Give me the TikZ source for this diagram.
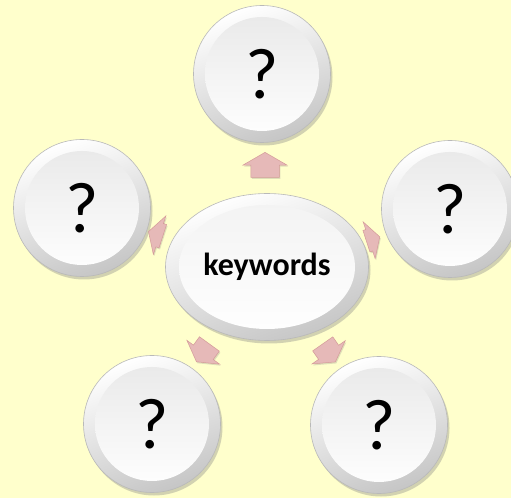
\documentclass[tikz,border=0pt]{standalone}
\usepackage{fontspec}
\setmainfont{Carlito}
\usetikzlibrary{shapes.geometric,shapes.arrows,shadows}

\definecolor{paper}{HTML}{FFFFCC}
\definecolor{petalfill}{HTML}{E6B9B8}
\definecolor{petaledge}{HTML}{D49A99}

\begin{document}
\begin{tikzpicture}[
  x=1pt, y=1pt,
  bubble/.style={circle, minimum size=137pt, inner sep=0pt, draw=gray!55, line width=0.6pt,
    top color=white, bottom color=gray!45, shading angle=20,
    drop shadow={opacity=0.35, shadow xshift=2pt, shadow yshift=-3pt},
    path picture={\shade[top color=gray!18, bottom color=white]
      (path picture bounding box.center) circle (57pt);},
    font=\fontsize{72}{72}\selectfont},
  hub/.style={ellipse, minimum width=203pt, minimum height=147pt, inner sep=0pt, draw=gray!55, line width=0.6pt,
    top color=white, bottom color=gray!45, shading angle=20,
    drop shadow={opacity=0.35, shadow xshift=2pt, shadow yshift=-3pt},
    path picture={\shade[top color=gray!10, bottom color=white]
      (path picture bounding box.center) ellipse (88pt and 62pt);},
    font=\fontsize{32}{32}\selectfont\bfseries},
  petal/.style={single arrow, draw=petaledge, fill=petalfill, line width=0.5pt, inner xsep=0pt,
    single arrow head extend=8pt, single arrow tip angle=120,
    drop shadow={opacity=0.25, shadow xshift=1pt, shadow yshift=-1.5pt}}
]

\fill[paper] (0,0) rectangle (511,498);
\useasboundingbox (0,0) rectangle (511,498);

% outer circles
\node[bubble] (qtop) at (262,424) {?};
\node[bubble] (qleft) at (82,290) {?};
\node[bubble] (qright) at (450,289) {?};
\node[bubble] (qbl) at (152,74) {?};
\node[bubble] (qbr) at (379,73) {?};

% block arrows
\node[petal, rotate=90, minimum height=25pt, inner ysep=14pt] (atop) at (265,329) {};
\node[petal, rotate=162, minimum height=15pt, inner ysep=12pt] (aleft) at (159,263) {};
\node[petal, rotate=18, minimum height=14pt, inner ysep=11pt] (aright) at (370,258) {};
\node[petal, rotate=234, minimum height=22pt, inner ysep=12pt] (abl) at (205,148) {};
\node[petal, rotate=-55, minimum height=22pt, inner ysep=12pt] (abr) at (327,148) {};

% centre
\node[hub] (kw) at (267,231) {keywords};

\end{tikzpicture}
\end{document}
